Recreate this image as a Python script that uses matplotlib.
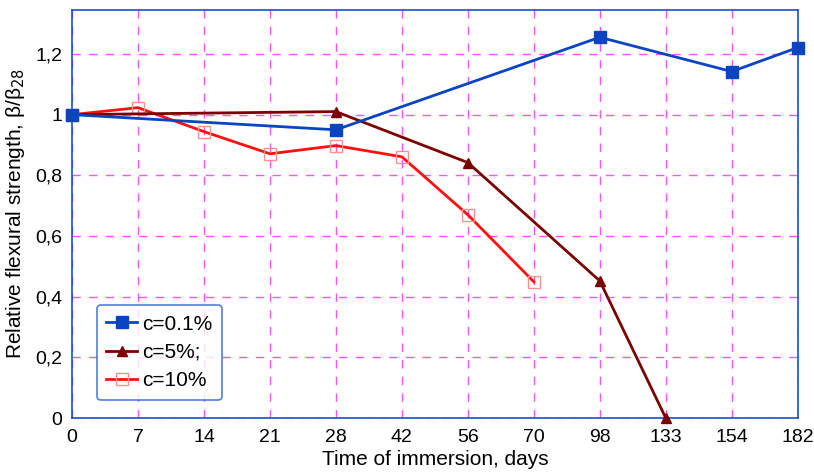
import matplotlib.pyplot as plt
from matplotlib.ticker import FuncFormatter

plt.rcParams['font.family'] = ['Liberation Sans', 'DejaVu Sans']

# immersion time (days); plotted on evenly spaced category positions
days = [0, 7, 14, 21, 28, 42, 56, 70, 98, 133, 154, 182]

# relative flexural strength beta/beta28 for each concentration
days_c01 = [0, 28, 98, 154, 182]
vals_c01 = [1.00, 0.95, 1.255, 1.142, 1.221]

days_c5 = [0, 28, 56, 98, 133]
vals_c5 = [1.00, 1.01, 0.842, 0.452, 0.0]

days_c10 = [0, 7, 14, 21, 28, 42, 56, 70]
vals_c10 = [1.00, 1.023, 0.944, 0.871, 0.898, 0.861, 0.670, 0.449]

pos = {d: i for i, d in enumerate(days)}

fig = plt.figure(figsize=(8.14, 4.74), dpi=100)
ax = fig.add_axes([0.0885, 0.118, 0.8915, 0.861])

ax.plot([pos[d] for d in days_c01], vals_c01, color='#0a44c0', lw=2,
        marker='s', ms=8, mfc='#0a44c0', mec='#0a44c0', label='c=0.1%',
        clip_on=False, zorder=5)
ax.plot([pos[d] for d in days_c5], vals_c5, color='#7b0000', lw=2,
        marker='^', ms=7, mfc='#7b0000', mec='#7b0000', label='c=5%;',
        clip_on=False, zorder=4)
ax.plot([pos[d] for d in days_c10], vals_c10, color='#ff1010', lw=2,
        marker='s', ms=8, mfc='none', mec='#ff9090', mew=1, label='c=10%',
        clip_on=False, zorder=3)

ax.set_xlim(0, len(days) - 1)
ax.set_ylim(0, 1.345)
ax.set_xticks(range(len(days)))
ax.set_xticklabels([str(d) for d in days])
ax.set_yticks([0, 0.2, 0.4, 0.6, 0.8, 1.0, 1.2])
ax.yaxis.set_major_formatter(FuncFormatter(
    lambda v, p: '1' if abs(v - 1) < 1e-9 else ('0' if v == 0 else f'{v:.1f}'.replace('.', ','))))

ax.grid(True, color='#ff33ff', ls=(0, (6, 6)), lw=1, alpha=0.85)
ax.tick_params(length=0, labelsize=14)
ax.tick_params(axis='x', pad=8)
ax.tick_params(axis='y', pad=7)
for s in ax.spines.values():
    s.set_color('#1a4fd0')
    s.set_linewidth(1.2)

ax.set_xlabel('Time of immersion, days', fontsize=15, labelpad=3)
ax.set_ylabel('Relative flexural strength, β/β$_{28}$', fontsize=15, labelpad=6)

leg = ax.legend(loc='lower left', bbox_to_anchor=(0.034, 0.045), fontsize=15,
                frameon=True, fancybox=True, edgecolor='#2a5fd0',
                handlelength=1.5, labelspacing=0.45, borderpad=0.45,
                handletextpad=0.25, borderaxespad=0)
leg.get_frame().set_linewidth(1.2)

fig.savefig('out.png', dpi=100)
